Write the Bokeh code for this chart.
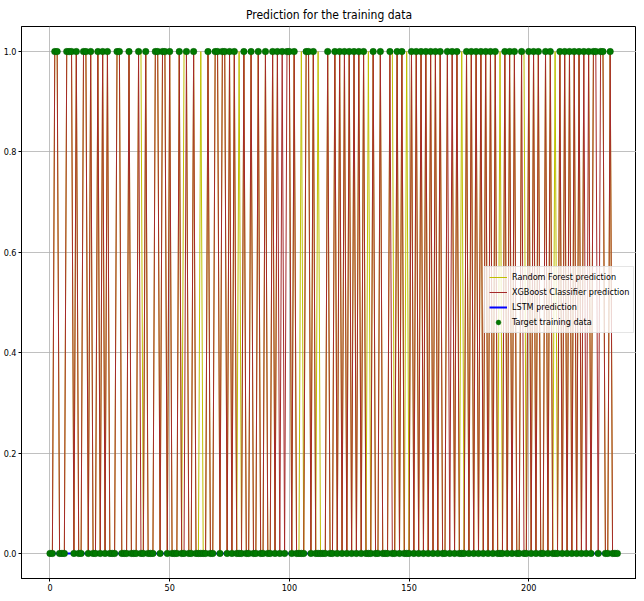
from bokeh.plotting import figure
from bokeh.models import Range1d, Legend, LegendItem, ColumnDataSource, FixedTicker, PrintfTickFormatter
from bokeh.embed import file_html
from bokeh.resources import INLINE

FONT = "DejaVu Sans Condensed, DejaVu Sans"

# target training data (0/1), indices 0..237
target = [
    0,0,1,1,0,0,0,1,1,1,0,1,0,0,1,1,0,1,0,0,
    1,0,1,0,1,0,0,0,1,1,0,0,0,1,0,0,0,1,0,0,
    1,0,0,0,1,1,0,1,1,0,1,0,0,0,1,0,0,1,0,0,
    1,0,0,0,0,0,1,0,0,1,1,0,1,1,0,1,0,1,0,0,
    0,1,0,0,1,0,0,1,0,0,1,0,0,1,0,1,0,1,0,1,
    1,0,1,0,0,0,0,1,1,0,1,0,0,0,0,0,1,0,0,1,
    0,1,0,1,0,1,0,1,0,1,0,1,0,0,0,1,0,0,1,0,
    0,0,1,0,0,1,0,1,0,0,0,1,0,1,0,1,0,1,0,1,
    0,1,0,1,0,0,1,0,1,0,1,0,0,0,1,0,1,0,1,0,
    1,0,1,0,1,0,1,0,0,0,1,0,1,0,1,0,0,1,0,0,
    1,0,1,0,1,0,0,1,0,1,0,0,0,1,0,1,0,1,0,1,
    0,1,0,1,0,1,0,1,1,0,1,1,0,0,1,0,0,0,
]

rf_pred = [
    0,0,1,1,0,0,0,1,1,1,0,1,0,0,1,1,0,1,0,0,
    1,0,1,0,1,0,0,0,1,1,0,0,0,1,0,0,0,1,1,0,
    1,0,0,0,1,1,0,1,1,0,1,0,0,0,1,0,1,1,0,0,
    1,0,0,1,0,0,1,0,0,1,1,0,1,1,0,1,0,1,0,1,
    0,1,0,0,1,0,0,1,0,0,1,0,0,1,0,1,1,1,1,1,
    1,0,1,0,0,1,0,1,1,0,1,0,1,0,0,0,1,0,0,1,
    0,1,0,1,0,1,0,1,0,1,0,1,0,1,0,1,0,0,1,0,
    0,0,1,1,0,1,0,1,0,1,0,1,0,1,0,1,0,1,0,1,
    0,1,0,1,0,0,1,1,1,0,1,0,1,0,1,0,1,0,1,0,
    1,0,1,0,1,0,1,0,1,0,1,0,1,0,1,0,0,1,1,0,
    1,0,1,0,1,0,0,1,0,1,0,1,0,1,0,1,0,1,0,1,
    0,1,0,1,1,1,0,1,1,1,1,1,0,0,1,0,0,0,
]

xgb_pred = [
    0,0,1,1,0,0,0,1,1,1,0,1,0,0,1,1,0,1,0,0,
    1,0,1,0,1,0,0,0,1,1,0,0,0,1,0,0,0,1,0,0,
    1,0,0,0,1,1,0,1,1,0,1,0,0,0,1,0,0,1,0,0,
    1,0,0,0,0,0,1,0,0,1,1,0,1,1,0,1,0,1,0,0,
    0,1,0,0,1,0,0,1,0,0,1,0,0,1,0,1,0,1,0,1,
    1,0,1,0,0,0,0,1,1,0,1,0,0,0,0,0,1,0,0,1,
    0,1,0,1,0,1,0,1,0,1,0,1,0,0,0,1,0,0,1,0,
    0,0,1,0,0,1,0,1,0,0,0,1,0,1,0,1,0,1,0,1,
    0,1,0,1,0,0,1,0,1,0,1,0,0,0,1,0,1,0,1,0,
    1,0,1,0,1,0,1,0,0,0,1,0,1,0,1,0,0,1,0,0,
    1,0,1,0,1,0,0,1,0,1,0,0,0,1,0,1,0,1,0,1,
    0,1,0,1,0,1,0,1,1,0,1,1,0,0,1,0,0,0,
]

lstm_pred = [0.0] * 238

x_idx = list(range(len(target)))

x_ticks = [0, 50, 100, 150, 200]
y_ticks = [0.0, 0.2, 0.4, 0.6, 0.8, 1.0]

src = ColumnDataSource(dict(x=x_idx, target=target, rf=rf_pred, xgb=xgb_pred, lstm=lstm_pred))

p = figure(width=636, height=593, output_backend="svg", toolbar_location=None,
           x_range=Range1d(-11.9, 245), y_range=Range1d(-0.05, 1.05),
           title="Prediction for the training data")
p.title.align = "center"
p.title.text_font = FONT
p.title.text_font_size = "12px"
p.title.text_font_style = "normal"
p.title.text_color = "black"
p.min_border_left = 14
p.min_border_right = 0
p.min_border_top = 0
p.min_border_bottom = 0
p.outline_line_color = "black"
p.outline_line_width = 1
p.background_fill_color = "white"
p.border_fill_color = "white"

for ax in (p.xaxis[0], p.yaxis[0]):
    ax.major_label_text_font = FONT
    ax.major_label_text_font_size = "9px"
    ax.major_label_text_color = "black"
    ax.axis_line_color = "black"
    ax.major_tick_line_color = "black"
    ax.major_tick_out = 3
    ax.major_tick_in = 0
    ax.minor_tick_line_color = None
    ax.major_label_standoff = 2
p.xaxis.ticker = FixedTicker(ticks=x_ticks)
p.yaxis.ticker = FixedTicker(ticks=y_ticks)
p.yaxis.formatter = PrintfTickFormatter(format="%.1f")
p.grid.grid_line_color = "#b0b0b0"
p.grid.grid_line_width = 0.8

r_rf = p.line("x", "rf", source=src, line_color="#bfbf00", line_width=1)
r_xgb = p.line("x", "xgb", source=src, line_color="#a52a2a", line_width=1)
r_lstm = p.line("x", "lstm", source=src, line_color="#0000ff", line_width=2)
r_tgt = p.scatter("x", "target", source=src, size=6.5, fill_color="#007a00", line_color="#005a00", line_width=0.5)

legend = Legend(items=[
    LegendItem(label="Random Forest prediction", renderers=[r_rf]),
    LegendItem(label="XGBoost Classifier prediction", renderers=[r_xgb]),
    LegendItem(label="LSTM prediction", renderers=[r_lstm]),
    LegendItem(label="Target training data", renderers=[r_tgt]),
], location=(463, 245))
legend.label_text_font = FONT
legend.label_text_font_size = "9px"
legend.label_text_color = "black"
legend.label_height = 12
legend.glyph_height = 12
legend.glyph_width = 18
legend.spacing = 3
legend.padding = 4
legend.margin = 0
legend.border_line_color = "#cccccc"
legend.background_fill_alpha = 0.8
p.add_layout(legend)

open("out.html", "w").write(file_html(p, INLINE))
